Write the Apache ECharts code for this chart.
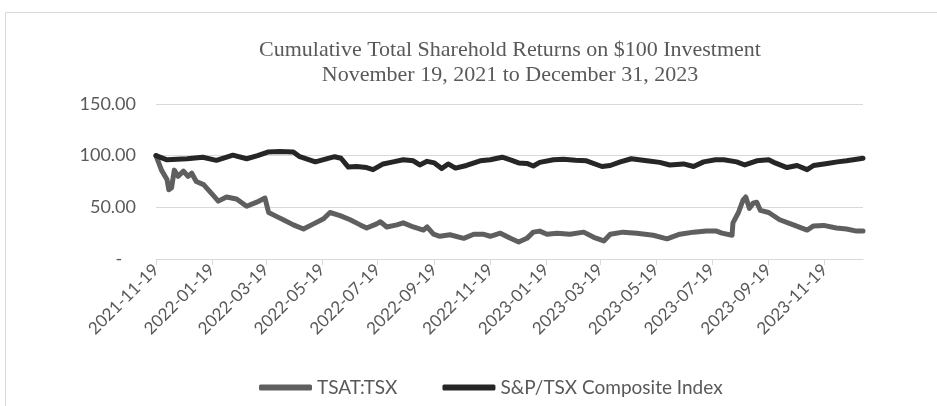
<!DOCTYPE html>
<html>
<head>
<meta charset="utf-8">
<script src="https://cdn.jsdelivr.net/npm/echarts@6/dist/echarts.min.js"></script>
<style>
  html, body { margin: 0; padding: 0; background: #fff; }
  #main { width: 937px; height: 406px; }
</style>
</head>
<body>
<div id="main"></div>
<script>
// tick dates shown on the x axis
var tickDates = ['2021-11-19','2022-01-19','2022-03-19','2022-05-19','2022-07-19','2022-09-19',
  '2022-11-19','2023-01-19','2023-03-19','2023-05-19','2023-07-19','2023-09-19','2023-11-19'];
var yTicks = [0, 50, 100, 150];

// TSAT:TSX
var tsatDates = ['2021-11-19','2021-11-25','2021-12-01','2021-12-03','2021-12-06','2021-12-09','2021-12-13',
  '2021-12-19','2021-12-24','2021-12-28','2022-01-02','2022-01-10','2022-01-21','2022-01-26','2022-02-04',
  '2022-02-15','2022-02-26','2022-03-09','2022-03-18','2022-03-22','2022-03-31','2022-04-07','2022-04-18',
  '2022-04-29','2022-05-10','2022-05-21','2022-05-28','2022-06-08','2022-06-19','2022-06-30','2022-07-07',
  '2022-07-18','2022-07-22','2022-07-29','2022-08-09','2022-08-16','2022-08-27','2022-09-07','2022-09-11',
  '2022-09-18','2022-09-25','2022-10-06','2022-10-21','2022-11-01','2022-11-11','2022-11-19','2022-11-30',
  '2022-12-11','2022-12-20','2022-12-29','2023-01-05','2023-01-12','2023-01-20','2023-01-31','2023-02-14',
  '2023-03-01','2023-03-12','2023-03-23','2023-03-30','2023-04-13','2023-04-28','2023-05-16','2023-05-31',
  '2023-06-14','2023-06-29','2023-07-13','2023-07-24','2023-07-30','2023-08-10','2023-08-11','2023-08-17',
  '2023-08-22','2023-08-25','2023-08-29','2023-09-02','2023-09-06','2023-09-10','2023-09-19','2023-10-01',
  '2023-10-16','2023-10-31','2023-11-07','2023-11-18','2023-12-02','2023-12-13','2023-12-24','2023-12-31'];
var tsatValues = [100, 86, 77, 67, 69, 86, 80,
  85, 80, 83, 75, 72, 61, 56, 60,
  58, 51, 55, 59, 45, 41, 38, 33,
  29, 34, 39, 45, 42, 38, 33, 30,
  34, 36, 31, 33, 35, 31, 28, 31,
  24, 22, 23.5, 20, 24, 24, 22, 25,
  20, 16.5, 20, 26, 27, 24, 25, 24,
  26, 21, 17.5, 24, 26, 25, 23, 19.5,
  24, 26, 27, 27, 25, 23, 35, 45,
  57, 60, 49, 54, 55, 47, 45, 38,
  33, 28, 32, 32.5, 30, 29, 27, 27];

// S&P/TSX Composite Index
var tsxDates = ['2021-11-19','2021-12-01','2021-12-23','2022-01-09','2022-01-24','2022-02-11','2022-02-26',
  '2022-03-10','2022-03-21','2022-04-03','2022-04-18','2022-04-25','2022-05-12','2022-05-20','2022-06-02',
  '2022-06-09','2022-06-17','2022-06-26','2022-07-07','2022-07-14','2022-07-25','2022-08-05','2022-08-16',
  '2022-08-27','2022-09-03','2022-09-11','2022-09-19','2022-09-27','2022-10-04','2022-10-12','2022-10-24',
  '2022-11-08','2022-11-19','2022-12-02','2022-12-11','2022-12-20','2022-12-29','2023-01-05','2023-01-12',
  '2023-01-27','2023-02-07','2023-02-20','2023-03-04','2023-03-21','2023-03-30','2023-04-10','2023-04-22',
  '2023-05-09','2023-05-23','2023-06-03','2023-06-18','2023-06-29','2023-07-10','2023-07-23','2023-08-01',
  '2023-08-15','2023-08-24','2023-09-06','2023-09-19','2023-09-26','2023-10-09','2023-10-20','2023-10-31',
  '2023-11-07','2023-11-22','2023-12-03','2023-12-13','2023-12-24','2023-12-31'];
var tsxValues = [100, 96, 97, 98.5, 95.5, 100.5, 97,
  100, 103.5, 104, 103.5, 99, 94, 96, 99,
  97.5, 89, 89.5, 88.5, 86.5, 92, 94, 96,
  95, 91, 94.5, 93, 87.5, 92, 88, 90.5,
  95, 96, 98.5, 96, 93, 92.5, 90, 93.5,
  96, 96.5, 95.5, 95, 89.5, 90.5, 94, 97,
  95, 93.5, 91, 92, 89.5, 94, 96, 96,
  94, 91, 95, 96, 93, 88.5, 90.5, 86.5,
  90.5, 92.5, 94, 95, 96.5, 97.5];

var lastDate = '2023-12-31';

function ts(s) {
  var p = s.split('-');
  return Date.UTC(+p[0], +p[1] - 1, +p[2]);
}

function pairs(dates, values) {
  var out = [];
  for (var i = 0; i < dates.length; i++) {
    out.push([ts(dates[i]), values[i]]);
  }
  return out;
}

function pad(n) { return n < 10 ? '0' + n : '' + n; }

var chart = echarts.init(document.getElementById('main'), null, { renderer: 'canvas' });

var labelFont = 'Lato, "Open Sans", sans-serif';

var option = {
  animation: false,
  backgroundColor: '#fff',
  title: {
    text: 'Cumulative Total Sharehold Returns on $100 Investment\nNovember 19, 2021 to December 31, 2023',
    left: 505,
    textAlign: 'center',
    top: 33,
    textStyle: {
      fontFamily: '"Liberation Serif", "DejaVu Serif", serif',
      fontWeight: 'normal',
      fontSize: 22,
      lineHeight: 25,
      color: '#595959'
    }
  },
  graphic: [{
    type: 'rect',
    shape: { x: 5.5, y: 12.5, width: 1000, height: 500 },
    style: { fill: 'none', stroke: '#d9d9d9', lineWidth: 1 },
    silent: true,
    z: -10
  }],
  legend: {
    bottom: 4,
    left: 254,
    itemWidth: 53,
    itemHeight: 6,
    itemGap: 45,
    icon: 'roundRect',
    textStyle: { fontFamily: labelFont, fontSize: 19, color: '#595959' },
    data: ['TSAT:TSX', 'S&P/TSX Composite Index']
  },
  grid: { left: 156, right: 74, top: 104, bottom: 147 },
  xAxis: {
    type: 'value',
    min: ts(tickDates[0]),
    max: ts(lastDate),
    axisLine: { lineStyle: { color: '#d9d9d9', width: 1 } },
    axisTick: {
      show: true,
      length: 6,
      lineStyle: { color: '#d9d9d9' },
      customValues: tickDates.map(ts)
    },
    axisLabel: {
      customValues: tickDates.map(ts),
      rotate: 45,
      margin: 8,
      fontFamily: labelFont,
      fontSize: 17,
      color: '#595959',
      formatter: function (v) {
        var d = new Date(v);
        return d.getUTCFullYear() + '-' + pad(d.getUTCMonth() + 1) + '-' + pad(d.getUTCDate());
      }
    },
    splitLine: { show: false }
  },
  yAxis: {
    type: 'value',
    min: yTicks[0],
    max: yTicks[yTicks.length - 1],
    interval: 50,
    axisLine: { show: false },
    axisTick: { show: false },
    axisLabel: {
      margin: 20,
      fontFamily: labelFont,
      fontSize: 18,
      color: '#595959',
      formatter: function (v) {
        return v === 0 ? '-   ' : v.toFixed(2);
      }
    },
    splitLine: { lineStyle: { color: '#d9d9d9', width: 1 } }
  },
  series: [
    {
      name: 'TSAT:TSX',
      type: 'line',
      showSymbol: false,
      symbol: 'none',
      data: pairs(tsatDates, tsatValues),
      itemStyle: { color: '#5f5f5f' },
      lineStyle: { color: '#5f5f5f', width: 5, join: 'round', cap: 'round' }
    },
    {
      name: 'S&P/TSX Composite Index',
      type: 'line',
      showSymbol: false,
      symbol: 'none',
      data: pairs(tsxDates, tsxValues),
      itemStyle: { color: '#262626' },
      lineStyle: { color: '#262626', width: 5, join: 'round', cap: 'round' }
    }
  ]
};

chart.setOption(option);
</script>
</body>
</html>
